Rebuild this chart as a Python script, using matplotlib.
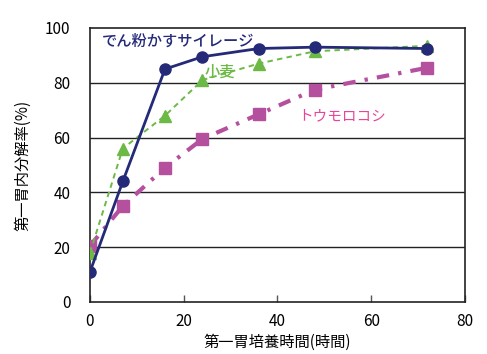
import matplotlib
matplotlib.use("Agg")
import matplotlib.pyplot as plt

plt.rcParams['font.family'] = ['Noto Sans CJK JP', 'DejaVu Sans']

# data
hours = [0, 7, 16, 24, 36, 48, 72]
silage = [11, 44, 85, 89.5, 92.5, 93, 92.5]     # でん粉かすサイレージ
wheat = [18, 56, 68, 81, 87, 91.5, 93.5]        # 小麦
corn = [20.5, 35, 49, 59.5, 68.5, 77.5, 85.5]   # トウモロコシ

x_ticks = [0, 20, 40, 60, 80]
y_ticks = [0, 20, 40, 60, 80, 100]

navy = '#252a78'
green = '#6cb945'
magenta = '#b5509e'

fig = plt.figure(figsize=(4.87, 3.54), dpi=100)
ax = fig.add_axes([0.1848, 0.147, 0.770, 0.774])

# horizontal grid lines
for y in y_ticks[1:-1]:
    ax.axhline(y, color='#222222', lw=1.0, zorder=1)

ax.plot(hours, corn, color=magenta, lw=3, dashes=[3, 2.2, 0.8, 2.2],
        marker='s', ms=8.5, mec=magenta, mfc=magenta, zorder=3)
ax.plot(hours, wheat, color=green, lw=1.4, dashes=[2.8, 2.2],
        marker='^', ms=9, mec=green, mfc=green, zorder=4)
ax.plot(hours, silage, color=navy, lw=2,
        marker='o', ms=8, mec=navy, mfc=navy, zorder=5)

ax.text(2.5, 95.3, 'でん粉かすサイレージ', color=navy, fontsize=11,
        fontweight='medium', va='center', ha='left')
ax.text(24.5, 84, '小麦', color=green, fontsize=11, fontweight='medium',
        va='center', ha='left')
ax.text(44.5, 67.8, 'トウモロコシ', color='#e8449a', fontsize=10.5,
        va='center', ha='left')

ax.set_xlim(0, 80)
ax.set_ylim(0, 100)
ax.set_xticks(x_ticks)
ax.set_yticks(y_ticks)
ax.tick_params(axis='x', direction='in', length=5, width=1, color='#555555',
               pad=8, labelsize=11)
ax.tick_params(axis='y', direction='out', length=0, pad=14, labelsize=11)
for s in ax.spines.values():
    s.set_color('#222222')
    s.set_linewidth(1.2)

ax.set_xlabel('第一胃培養時間(時間)', fontsize=11, labelpad=3)
ax.set_ylabel('第一胃内分解率(%)', fontsize=11, labelpad=10)

fig.savefig('out.png', dpi=100)
